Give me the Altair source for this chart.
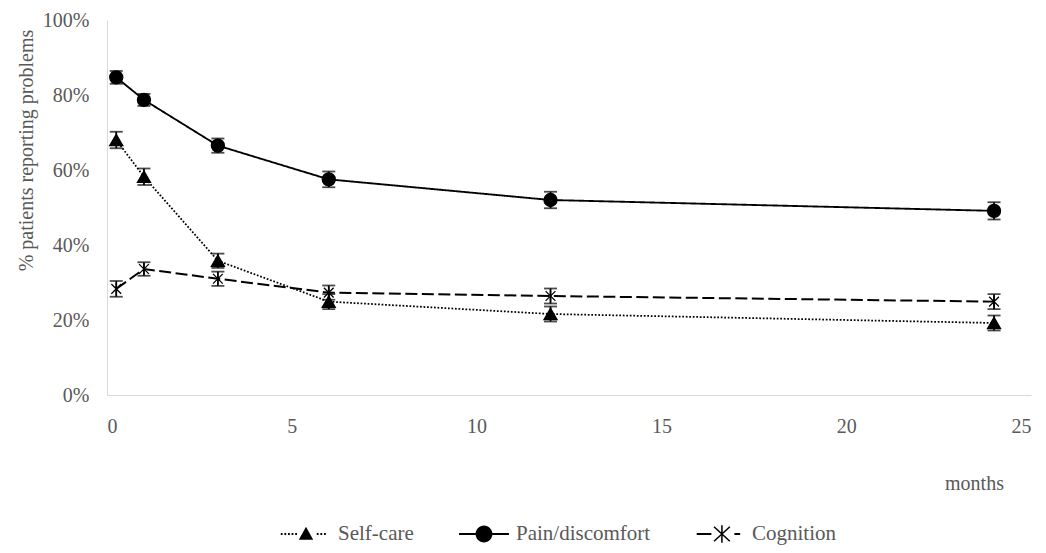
import math
import altair as alt
import pandas as pd

# ---- data ----
months = [0.25, 1, 3, 6, 12, 24]
series_names = ["Self-care", "Pain/discomfort", "Cognition"]
self_care = [0.680, 0.582, 0.358, 0.249, 0.216, 0.192]
pain = [0.847, 0.787, 0.665, 0.575, 0.520, 0.491]
cognition = [0.283, 0.336, 0.310, 0.273, 0.264, 0.249]
self_care_err = [0.022, 0.022, 0.019, 0.020, 0.020, 0.020]
pain_err = [0.017, 0.016, 0.019, 0.021, 0.022, 0.023]
cognition_err = [0.021, 0.018, 0.019, 0.019, 0.020, 0.020]
x_ticks = [0, 5, 10, 15, 20, 25]
y_ticks = [0, 0.2, 0.4, 0.6, 0.8, 1.0]

rows = []
for name, vals, errs in zip(series_names, [self_care, pain, cognition],
                            [self_care_err, pain_err, cognition_err]):
    for m, v, e in zip(months, vals, errs):
        rows.append({"series": name, "month": m, "value": v, "lo": v - e, "hi": v + e})
df = pd.DataFrame(rows)

# ---- styles ----
FONT = "Liberation Serif"
GRAY = "#595959"
W, H = 924, 375


# legend glyphs: filled-only SVG paths in symbol units (1 unit = 24 px)
def rect(x0, x1, t):
    return f"M{x0:.4f},{-t:.4f}H{x1:.4f}V{t:.4f}H{x0:.4f}Z"


def bar(x1, y1, x2, y2, t):
    dx, dy = x2 - x1, y2 - y1
    n = math.hypot(dx, dy)
    nx, ny = -dy / n * t, dx / n * t
    pts = [(x1 + nx, y1 + ny), (x2 + nx, y2 + ny), (x2 - nx, y2 - ny), (x1 - nx, y1 - ny)]
    return "M" + "L".join(f"{px:.4f},{py:.4f}" for px, py in pts) + "Z"


def dots(x0, x1, size=0.075, period=0.15, skip=(-0.32, 0.32)):
    out, x = [], x0
    while x + size <= x1 + 1e-9:
        if x + size < skip[0] or x > skip[1]:
            out.append(rect(x, x + size, size / 2))
        x += period
    return "".join(out)


r = 0.35
legend_paths = [
    dots(-1.05, 0.88) + "M0,-0.3L0.3,0.24L-0.3,0.24Z",
    rect(-1.04, -0.3, 0.042) + rect(0.3, 1.04, 0.042)
    + f"M{-r},0A{r},{r},0,1,1,{r},0A{r},{r},0,1,1,{-r},0Z",
    rect(-0.97, -0.36, 0.042) + rect(0.6, 0.84, 0.042)
    + bar(-0.25, -0.3, 0.41, 0.3, 0.032) + bar(0.41, -0.3, -0.25, 0.3, 0.032)
    + bar(0.08, -0.36, 0.08, 0.36, 0.032),
]
plot_shapes = [
    "triangle-up",
    "circle",
    "M-0.75,-0.75L0.75,0.75M0.75,-0.75L-0.75,0.75M0,-0.85V0.85",
]

xscale = alt.Scale(domain=[0, 25], nice=False, zero=False)
yscale = alt.Scale(domain=[0, 1], nice=False)
xaxis = alt.Axis(values=x_ticks, title="months", labelPadding=21,
                 titleX=867, titleY=94, titleAlign="center", titleBaseline="alphabetic")
yaxis = alt.Axis(values=y_ticks, format=".0%", title="% patients reporting problems",
                 labelPadding=18, titleAngle=-90, titleX=-81, titleY=130,
                 titleAlign="center", titleBaseline="middle")

X = alt.X("month:Q", scale=xscale, axis=xaxis)

lines = alt.Chart(df).mark_line(color="black").encode(
    x=X,
    y=alt.Y("value:Q", scale=yscale, axis=yaxis),
    strokeDash=alt.StrokeDash("series:N", scale=alt.Scale(domain=series_names,
                              range=[[1.75, 1.75], [1, 0], [12, 4.5]]), legend=None),
    strokeWidth=alt.StrokeWidth("series:N", scale=alt.Scale(domain=series_names,
                                range=[1.75, 2, 2]), legend=None),
)

errbars = alt.Chart(df).mark_errorbar(ticks=True, size=13, thickness=1.8, color="black").encode(
    x=X,
    y=alt.Y("lo:Q", scale=yscale, axis=yaxis),
    y2="hi:Q",
)

points = alt.Chart(df).mark_point(filled=True, color="black", stroke="black",
                                  strokeWidth=1.3, size=170, opacity=1).encode(
    x=X,
    y=alt.Y("value:Q", scale=yscale, axis=yaxis),
    shape=alt.Shape("series:N", scale=alt.Scale(domain=series_names, range=plot_shapes), legend=None),
    fill=alt.Fill("series:N", scale=alt.Scale(domain=series_names,
                  range=["black", "black", "transparent"]), legend=None),
)

legend_layer = alt.Chart(df).transform_filter("false").mark_point(
    filled=True, color="black", size=2304, opacity=1
).encode(
    shape=alt.Shape("series:N", scale=alt.Scale(domain=series_names, range=legend_paths),
                    legend=alt.Legend(title=None, orient="none", legendX=175, legendY=490,
                                      direction="horizontal", symbolSize=2304,
                                      labelOffset=8, columnPadding=45, padding=0,
                                      symbolFillColor="black", symbolStrokeWidth=0,
                                      symbolOpacity=1)),
)

chart = alt.layer(lines, errbars, points, legend_layer).resolve_scale(
    shape="independent"
).properties(
    width=W, height=H, autosize="none",
    padding={"left": 99, "top": 12, "right": 7, "bottom": 150},
).configure_view(stroke=None).configure_axis(
    labelFont=FONT, titleFont=FONT, labelColor=GRAY, titleColor=GRAY,
    labelFontSize=20, titleFontSize=20, titleFontWeight="normal",
    domainColor="#d9d9d9", domainWidth=1, ticks=False, grid=False,
).configure_legend(
    labelFont=FONT, labelFontSize=21, labelColor=GRAY,
)

chart.save("out.html", embed_options={"renderer": "svg", "actions": False})
